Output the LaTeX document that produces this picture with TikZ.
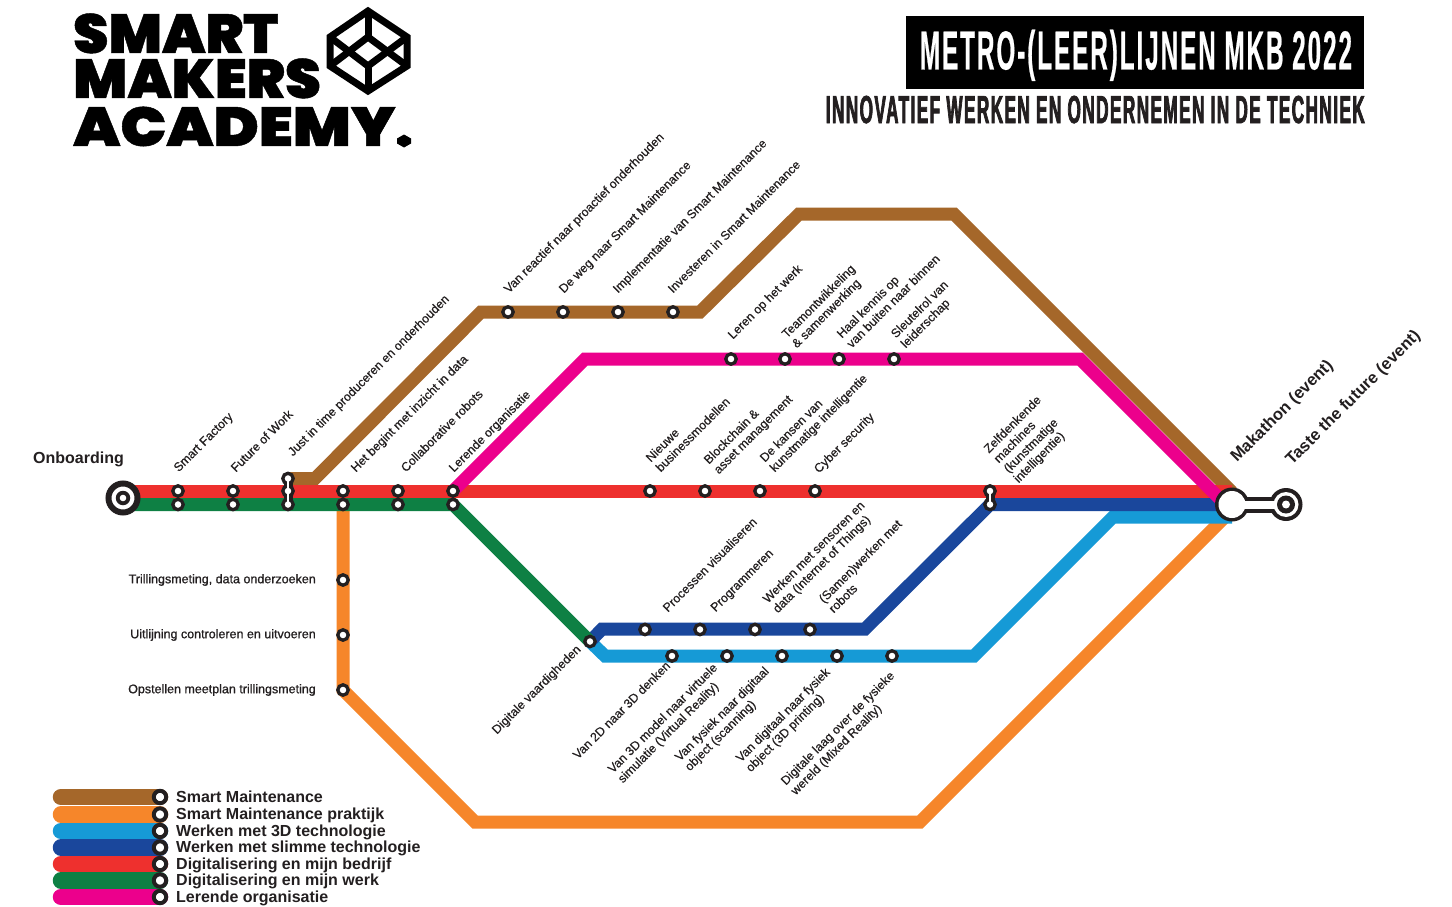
\documentclass[tikz,border=0pt]{standalone}
\usepackage{fontspec}
\setmainfont{Liberation Sans}
\newfontfamily\lblfont[FakeBold=0.5]{Liberation Sans}
\newfontfamily\boldlbl[FakeBold=0.9]{Liberation Sans}
\newfontfamily\heavyfont{Liberation Sans Bold}
\newfontfamily\titlefont[FakeStretch=0.44,LetterSpace=3.6,FakeBold=0.4]{Liberation Sans Bold}
\newfontfamily\subtitlefont[FakeStretch=0.44,LetterSpace=3.7,FakeBold=1.8]{Liberation Sans Bold}
\newfontfamily\logofont[FakeBold=0.8]{Poppins Black}
\definecolor{ink}{HTML}{231F20}
\definecolor{cbrown}{HTML}{A5672A}
\definecolor{corange}{HTML}{F6862A}
\definecolor{clight}{HTML}{169AD6}
\definecolor{cdark}{HTML}{1A479C}
\definecolor{cred}{HTML}{EE302E}
\definecolor{cgreen}{HTML}{0E8044}
\definecolor{cpink}{HTML}{EC008C}
\tikzset{
  metro/.style={line width=13pt,line join=miter,line cap=butt},
  station/.style={circle,draw=ink,fill=white,line width=3.3pt,minimum size=10.4pt,inner sep=0pt},
  lbl/.style={rotate=45,anchor=north west,align=left,inner sep=0pt,text=ink,
    font=\fontsize{12.35}{14}\selectfont\lblfont,execute at begin node={\rule{0pt}{8pt}}},
  hlbl/.style={anchor=east,inner sep=0pt,text=ink,font=\fontsize{12.5}{13}\selectfont\boldlbl},
  evlbl/.style={rotate=45,anchor=base west,inner sep=0pt,text=ink,font=\fontsize{16.6}{18}\selectfont\heavyfont},
  leglbl/.style={anchor=base west,inner sep=0pt,text=ink,font=\fontsize{16}{18}\selectfont\heavyfont},
  legbar/.style={line width=16.5pt,line cap=round},
  legdot/.style={circle,draw=ink,fill=white,line width=4pt,minimum size=12.4pt,inner sep=0pt},
  logotxt/.style={anchor=base west,inner sep=0pt,text=black,font=\fontsize{55}{55}\selectfont\logofont},
  cubeline/.style={draw=black,line width=7pt,line join=miter},
}
\newcommand{\lbl}[4]{\node[lbl] (#1) at ({#2-5.66},{#3-5.66}) {#4};}
\begin{document}
\begin{tikzpicture}[x=1pt,y=-1pt]
\useasboundingbox (0,0) rectangle (1452,907);
\fill[white] (0,0) rectangle (1452,907);

% logo
\node[logotxt] (logoa) at (73,53) {\scalebox{1.025}[1]{SMART}};
\node[logotxt] (logob) at (73,98) {\scalebox{1.04}[1]{MAKERS}};
\node[logotxt] (logoc) at (73,146) {\scalebox{1.11}[1]{ACADEMY}};
\fill[black] (404,134.5) -- (411,138.5) -- (411,143.5) -- (404,147.5) -- (397,143.5) -- (397,138.5) -- cycle;
\coordinate (cT) at (368,11);
\coordinate (cTR) at (407,37);
\coordinate (cBR) at (407,66);
\coordinate (cB) at (368,91);
\coordinate (cBL) at (330,66);
\coordinate (cTL) at (330,37);
\coordinate (cIT) at (368,37);
\coordinate (cIB) at (368,66);
\draw[cubeline] (cT) -- (cTR) -- (cBR) -- (cB) -- (cBL) -- (cTL) -- cycle;
\draw[cubeline] (cTL) -- (cIB) -- (cTR);
\draw[cubeline] (cBL) -- (cIT) -- (cBR);
\draw[cubeline] (cT) -- (cIT);
\draw[cubeline] (cB) -- (cIB);

% title
\node[fill=black,minimum width=458pt,minimum height=73pt,inner sep=0pt,outer sep=0pt] (titlebox) at (1135,52.5) {};
\node[inner sep=0pt,text=white,anchor=base,font=\fontsize{55}{55}\selectfont\titlefont] (title) at (1136,69.5) {METRO-(LEER)LIJNEN MKB 2022};
\node[inner sep=0pt,text=ink,anchor=base east,font=\fontsize{39}{39}\selectfont\subtitlefont] (subtitle) at (1365,123) {INNOVATIEF WERKEN EN ONDERNEMEN IN DE TECHNIEK};

% waypoints
\coordinate (start) at (123,498);
\coordinate (rs) at (123,491);
\coordinate (gs) at (123,504.5);
\coordinate (rj) at (453,491);
\coordinate (gj) at (453,504.5);
\coordinate (dj) at (590,641.5);
\coordinate (cr) at (990,491);
\coordinate (cd) at (990,504.5);

% lines
\draw[metro,cbrown] (288,478.5) -- (315,478.5) -- (481,312) -- (700,312) -- (799,214) -- (954,214) -- (1232,492);
\draw[metro,corange] (343,504.5) -- (343,690) -- (475,822) -- (920,822) -- (1232,510);
\draw[metro,clight] (dj) -- (605,656) -- (974,656) -- (1113,517) -- (1232,517);
\draw[metro,cdark] (dj) -- (602,629) -- (865,629) -- (cd) -- (1232,504.5);
\draw[metro,cred] (rs) -- (rj) -- (cr) -- (1232,491);
\draw[metro,cgreen] (gs) -- (gj) -- (dj);
\draw[metro,cpink] (rj) -- (585,359) -- (1080,359) -- (1226,505);

% interchanges
\coordinate (iA) at (288,478.5);
\coordinate (iB) at (288,504.5);
\draw[ink,line width=9pt] (iA) -- (iB);
\draw[ink,line width=9pt] (cr) -- (cd);
\foreach \y/\n in {478.5/a,491/b,504.5/c} \node[station] (ix\n) at (288,\y) {};
\node[station] (zr) at (990,491) {};
\node[station] (zd) at (990,504.5) {};
\draw[white,line width=2.6pt] (ixa.center) -- (ixc.center);
\draw[white,line width=2.6pt] (zr.center) -- (zd.center);

% stations
\foreach \x in {178,233,343,398,453,650,705,760,815} \node[station] (r\x) at (\x,491) {};
\foreach \x in {178,233,343,398,453} \node[station] (g\x) at (\x,504.5) {};
\foreach \x in {508,563,618,673} \node[station] (b\x) at (\x,312) {};
\foreach \x in {731,785,839,894} \node[station] (m\x) at (\x,359) {};
\foreach \x in {645,700,755,810} \node[station] (d\x) at (\x,629.5) {};
\foreach \x in {672,727,782,837,892} \node[station] (l\x) at (\x,656) {};
\foreach \y in {580,635,690} \node[station] (o\y) at (343,\y) {};
\node[station] (dv) at (dj) {};

% terminals
\node[circle,draw=ink,fill=white,line width=6pt,minimum size=29pt,inner sep=0pt] (onb) at (start) {};
\node[circle,fill=ink,minimum size=14.5pt,inner sep=0pt] (onbi) at (start) {};
\node[circle,fill=white,minimum size=6.6pt,inner sep=0pt] (onbw) at (start) {};

\coordinate (mk) at (1232,504.5);
\coordinate (tf) at (1286,504.5);
\draw[ink,line width=16pt] (mk) -- (tf);
\node[circle,fill=ink,minimum size=34pt,inner sep=0pt] (mko) at (mk) {};
\node[circle,fill=ink,minimum size=33pt,inner sep=0pt] (tfo) at (tf) {};
\draw[white,line width=8pt] (mk) -- (tf);
\node[circle,fill=white,minimum size=27pt,inner sep=0pt] (mki) at (mk) {};
\node[circle,fill=white,minimum size=25pt,inner sep=0pt] (tfi) at (tf) {};
\node[circle,fill=ink,minimum size=18pt,inner sep=0pt] (tfr) at (tf) {};
\node[circle,fill=white,minimum size=8pt,inner sep=0pt] (tfc) at (tf) {};

% labels
\node[anchor=base west,inner sep=0pt,text=ink,font=\fontsize{16}{18}\selectfont\heavyfont] (lonb) at (33,463) {Onboarding};
\node[evlbl] (lmak) at (1237,463) {Makathon (event)};
\node[evlbl] (ltaste) at (1292,466) {Taste the future (event)};

\lbl{l1}{178}{472}{Smart Factory}
\lbl{l2}{235}{472}{Future of Work}
\lbl{l3}{292}{456}{Just in time produceren en onderhouden}
\lbl{l4}{355}{472}{Het begint met inzicht in data}
\lbl{l5}{405}{472}{Collaborative robots}
\lbl{l6}{453}{472}{Lerende organisatie}
\lbl{l7}{508}{293}{Van reactief naar proactief onderhouden}
\lbl{l8}{563}{293}{De weg naar Smart Maintenance}
\lbl{l9}{617}{293}{Implementatie van Smart Maintenance}
\lbl{l10}{672}{293}{Investeren in Smart Maintenance}
\lbl{l11}{732}{339}{Leren op het werk}
\lbl{l12}{786}{338}{Teamontwikkeling\\\& samenwerking}
\lbl{l13}{841}{338}{Haal kennis op\\van buiten naar binnen}
\lbl{l14}{895}{338}{Sleutelrol van\\leiderschap}
\lbl{l15}{650}{462}{Nieuwe\\businessmodellen}
\lbl{l16}{708}{464}{Blockchain \&\\asset management}
\lbl{l17}{764}{462}{De kansen van\\kunstmatige intelligentie}
\lbl{l18}{818}{473}{Cyber security}
\lbl{l19}{988}{453}{Zelfdenkende\\machines\\(kunstmatige\\intelligentie)}
\lbl{l20}{667}{612}{Processen visualiseren}
\lbl{l21}{715}{612}{Programmeren}
\lbl{l22}{767}{603}{Werken met sensoren en\\data (Internet of Things)}
\lbl{l23}{823}{603}{(Samen)werken met\\robots}
\lbl{l24}{496}{734}{Digitale vaardigheden}
\lbl{l25}{577}{759}{Van 2D naar 3D denken}
\lbl{l26}{612}{773}{Van 3D model naar virtuele\\simulatie (Virtual Reality)}
\lbl{l27}{679}{761}{Van fysiek naar digitaal\\object (scanning)}
\lbl{l28}{740}{762}{Van digitaal naar fysiek\\object (3D printing)}
\lbl{l29}{785}{785}{Digitale laag over de fysieke\\wereld (Mixed Reality)}

\node[hlbl] (h1) at (316,580) {Trillingsmeting, data onderzoeken};
\node[hlbl] (h2) at (316,635) {Uitlijning controleren en uitvoeren};
\node[hlbl] (h3) at (316,690) {Opstellen meetplan trillingsmeting};

% legend
\foreach \y/\c [count=\i] in {797/cbrown,814.5/corange,831/clight,847.5/cdark,864/cred,880.5/cgreen,897/cpink}{
  \coordinate (la\i) at (61,\y);
  \coordinate (lb\i) at (160,\y);
  \draw[legbar,\c] (la\i) -- (lb\i);
}
\foreach \y/\t [count=\i] in {
  797/Smart Maintenance,
  814.5/Smart Maintenance praktijk,
  831/Werken met 3D technologie,
  847.5/Werken met slimme technologie,
  864/Digitalisering en mijn bedrijf,
  880.5/Digitalisering en mijn werk,
  897/Lerende organisatie}{
  \node[legdot] (ld\i) at (160,\y) {};
  \node[leglbl] (lt\i) at (176,\y+5) {\t};
}
\end{tikzpicture}
\end{document}
